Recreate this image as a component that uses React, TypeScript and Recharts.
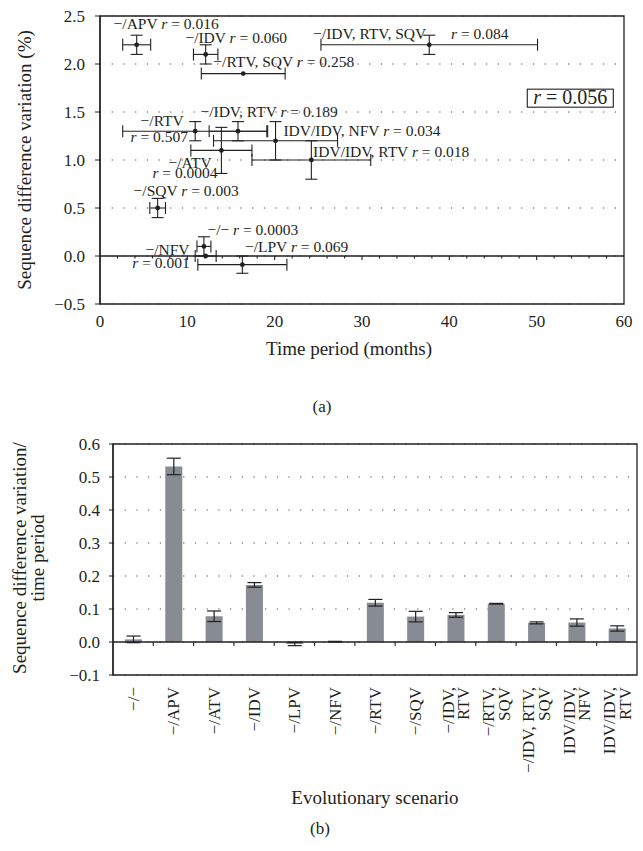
import {
  Bar,
  BarChart,
  CartesianGrid,
  ErrorBar,
  ReferenceArea,
  ReferenceDot,
  ReferenceLine,
  Scatter,
  ScatterChart,
  XAxis,
  YAxis,
} from "recharts";

const FONT = "'Liberation Serif', 'Times New Roman', serif";
const INK = "#231f20";
const BAR = "#878c94";

// evolutionary scenarios, in the order of panel (b)
const scenarios = [
  "−/−",
  "−/APV",
  "−/ATV",
  "−/IDV",
  "−/LPV",
  "−/NFV",
  "−/RTV",
  "−/SQV",
  "−/IDV, RTV",
  "−/RTV, SQV",
  "−/IDV, RTV, SQV",
  "IDV/IDV, NFV",
  "IDV/IDV, RTV",
];

// panel (a): time period (months) vs sequence difference variation (%)
const months = [11.9, 4.2, 13.9, 12.1, 16.3, 12.1, 10.9, 6.6, 15.8, 16.4, 37.7, 20.1, 24.2];
const monthsErr = [0.8, 1.6, 3.5, 1.4, 5.1, 1.2, 8.3, 0.9, 3.3, 4.8, 12.4, 7.1, 6.8];
const seqVar = [0.1, 2.2, 1.1, 2.1, -0.09, 0, 1.3, 0.5, 1.3, 1.9, 2.2, 1.2, 1.0];
const seqVarErr = [0.1, 0.1, 0.24, 0.1, 0.09, 0, 0.1, 0.1, 0.1, 0, 0.1, 0.2, 0.2];
const rValues = ["0.0003", "0.016", "0.0004", "0.060", "0.069", "0.001", "0.507", "0.003", "0.189", "0.258", "0.084", "0.034", "0.018"];
const overallR = "0.056";

// panel (b): sequence difference variation / time period
const rates = [0.008, 0.532, 0.078, 0.173, -0.006, 0.001, 0.119, 0.077, 0.082, 0.116, 0.058, 0.059, 0.041];
const rateErr = [0.01, 0.025, 0.016, 0.007, 0.005, 0.001, 0.01, 0.016, 0.007, 0.001, 0.003, 0.011, 0.008];

const xTicksA = [0, 10, 20, 30, 40, 50, 60];
const yTicksA = [-0.5, 0, 0.5, 1, 1.5, 2, 2.5];
const yTicksB = [-0.1, 0, 0.1, 0.2, 0.3, 0.4, 0.5, 0.6];

// where each scenario label sits in panel (a): left end + baseline, in data units
const notes = [
  { i: 1, x: 1.56, y: 2.36, part: "all" },
  { i: 3, x: 9.78, y: 2.22, part: "all" },
  { i: 9, x: 12.98, y: 1.97, part: "all" },
  { i: 10, x: 24.4, y: 2.265, part: "name" },
  { i: 10, x: 40.2, y: 2.265, part: "r" },
  { i: 8, x: 11.5, y: 1.45, part: "all" },
  { i: 6, x: 4.65, y: 1.35, part: "name" },
  { i: 6, x: 3.5, y: 1.19, part: "r" },
  { i: 11, x: 21.0, y: 1.25, part: "all" },
  { i: 12, x: 24.4, y: 1.03, part: "all" },
  { i: 2, x: 7.84, y: 0.92, part: "name" },
  { i: 2, x: 6.0, y: 0.81, part: "r" },
  { i: 7, x: 3.85, y: 0.62, part: "all" },
  { i: 0, x: 12.3, y: 0.22, part: "all" },
  { i: 5, x: 5.2, y: 0.01, part: "name" },
  { i: 5, x: 3.7, y: -0.125, part: "r" },
  { i: 4, x: 16.6, y: 0.04, part: "all" },
];

const fmt = (v: number) => (v < 0 ? "−" : "") + Math.abs(v).toFixed(1);

function NoteText({ cx, cy, name, r }: { cx: number; cy: number; name?: string; r?: string }) {
  return (
    <text x={cx} y={cy} fontFamily={FONT} fontSize={15.5} fill={INK} style={{ whiteSpace: "pre" }}>
      {name ? <tspan>{name + (r ? " " : "")}</tspan> : null}
      {r ? <tspan fontStyle="italic">r</tspan> : null}
      {r ? <tspan>{" = " + r}</tspan> : null}
    </text>
  );
}

function BoxedR({ cx, cy }: { cx: number; cy: number }) {
  return (
    <g>
      <rect x={cx - 43} y={cy - 9} width={86} height={18} fill="#fff" stroke={INK} strokeWidth={1.1} />
      <text x={cx} y={cy + 6} textAnchor="middle" fontFamily={FONT} fontSize={20} fill={INK} style={{ whiteSpace: "pre" }}>
        <tspan fontStyle="italic">r</tspan>
        <tspan>{" = " + overallR}</tspan>
      </text>
    </g>
  );
}

// solid line at y = 0 with small downward ticks
function ZeroAxis(props: any) {
  const { x1, x2, y1, steps, major, len } = props;
  const step = (x2 - x1) / steps;
  const ticks = [];
  for (let k = 1; k < steps; k++) {
    const l = major && k % major === 0 ? len + 1.5 : len;
    const x = x1 + k * step;
    ticks.push(<line key={k} x1={x} x2={x} y1={y1} y2={y1 + l} stroke={INK} strokeWidth={1.1} />);
  }
  return (
    <g>
      <line x1={x1} x2={x2} y1={y1} y2={y1} stroke={INK} strokeWidth={1.3} />
      {ticks}
    </g>
  );
}

function splitLabel(s: string) {
  const k = s.lastIndexOf(", ");
  return k < 0 ? [s] : [s.slice(0, k + 1), s.slice(k + 2)];
}

function ScenarioTick(props: any) {
  const { x, y, payload } = props;
  const lines = splitLabel(payload.value);
  const lh = 15.5;
  const first = 6 - ((lines.length - 1) * lh) / 2;
  return (
    <g transform={`translate(${x},${y + 4})`}>
      <text transform="rotate(-90)" textAnchor="end" fontFamily={FONT} fontSize={17} fill={INK}>
        {lines.map((l, k) => (
          <tspan key={k} x={0} y={first + k * lh}>
            {l}
          </tspan>
        ))}
      </text>
    </g>
  );
}

function Caption({ cx, top, size, children }: { cx: number; top: number; size: number; children: any }) {
  return (
    <div
      style={{
        position: "absolute",
        left: cx,
        top,
        transform: "translateX(-50%)",
        fontSize: size,
        lineHeight: 1,
        whiteSpace: "nowrap",
      }}
    >
      {children}
    </div>
  );
}

function SideTitle({ cx, cy, size, children }: { cx: number; cy: number; size: number; children: any }) {
  return (
    <div
      style={{
        position: "absolute",
        left: cx,
        top: cy,
        transform: "translate(-50%, -50%) rotate(-90deg)",
        fontSize: size,
        lineHeight: "18px",
        whiteSpace: "nowrap",
        textAlign: "center",
      }}
    >
      {children}
    </div>
  );
}

export default function App() {
  const points = scenarios.map((s, i) => ({
    name: s,
    x: months[i],
    y: seqVar[i],
    ex: monthsErr[i],
    ey: seqVarErr[i],
  }));
  const rows = scenarios.map((s, i) => ({ name: s, rate: rates[i], err: rateErr[i] }));
  const tickStyle = { fontFamily: FONT, fontSize: 17, fill: INK };

  return (
    <div
      style={{
        position: "absolute",
        left: 0,
        top: 0,
        width: 643,
        height: 851,
        background: "#fff",
        fontFamily: FONT,
        color: INK,
      }}
    >
      <div style={{ position: "absolute", left: 0, top: 0 }}>
        <ScatterChart width={643} height={420} margin={{ top: 16, right: 19, left: 40, bottom: 86 }}>
          <CartesianGrid vertical={false} stroke="#444" strokeDasharray="1.2 10.5" />
          <XAxis
            type="number"
            dataKey="x"
            domain={[0, 60]}
            ticks={xTicksA}
            axisLine={false}
            tickLine={false}
            tickMargin={5}
            height={30}
            tick={tickStyle}
          />
          <YAxis
            type="number"
            dataKey="y"
            domain={[-0.5, 2.5]}
            ticks={yTicksA}
            tickFormatter={fmt}
            width={60}
            tickSize={5}
            tickMargin={10}
            axisLine={{ stroke: INK, strokeWidth: 1.3 }}
            tickLine={{ stroke: INK }}
            tick={tickStyle}
          />
          <ReferenceArea y1={-0.5} y2={2.5} fill="none" stroke={INK} strokeWidth={1.3} ifOverflow="visible" />
          <ReferenceLine y={0} shape={(p: any) => <ZeroAxis {...p} steps={30} major={5} len={2.5} />} />
          <Scatter
            data={points}
            isAnimationActive={false}
            shape={(p: any) => <circle cx={p.cx} cy={p.cy} r={2.4} fill={INK} />}
          >
            <ErrorBar dataKey="ex" direction="x" width={6} stroke={INK} strokeWidth={1.1} />
            <ErrorBar dataKey="ey" direction="y" width={6} stroke={INK} strokeWidth={1.1} />
          </Scatter>
          {notes.map((n, k) => (
            <ReferenceDot
              key={k}
              x={n.x}
              y={n.y}
              r={0}
              ifOverflow="visible"
              shape={(p: any) => (
                <NoteText
                  cx={p.cx}
                  cy={p.cy}
                  name={n.part === "r" ? undefined : scenarios[n.i]}
                  r={n.part === "name" ? undefined : rValues[n.i]}
                />
              )}
            />
          ))}
          <ReferenceDot x={53.85} y={1.644} r={0} ifOverflow="visible" shape={(p: any) => <BoxedR cx={p.cx} cy={p.cy} />} />
        </ScatterChart>
      </div>

      <SideTitle cx={24.5} cy={160} size={19}>
        Sequence difference variation (%)
      </SideTitle>
      <Caption cx={349} top={339} size={19}>
        Time period (months)
      </Caption>
      <Caption cx={322} top={398} size={17}>
        (a)
      </Caption>

      <div style={{ position: "absolute", left: 0, top: 420 }}>
        <BarChart width={643} height={431} data={rows} margin={{ top: 24, right: 6, left: 53, bottom: 56 }} barSize={17}>
          <CartesianGrid vertical={false} stroke="#444" strokeDasharray="1.2 10.5" />
          <XAxis dataKey="name" interval={0} axisLine={false} tickLine={false} height={120} tick={<ScenarioTick />} />
          <YAxis
            type="number"
            domain={[-0.1, 0.6]}
            ticks={yTicksB}
            tickFormatter={fmt}
            width={60}
            tickSize={4}
            tickMargin={9}
            axisLine={{ stroke: INK, strokeWidth: 1.3 }}
            tickLine={{ stroke: INK }}
            tick={tickStyle}
          />
          <ReferenceArea y1={-0.1} y2={0.6} fill="none" stroke={INK} strokeWidth={1.3} ifOverflow="visible" />
          <Bar dataKey="rate" fill={BAR} isAnimationActive={false}>
            <ErrorBar dataKey="err" width={7} stroke={INK} strokeWidth={1.2} />
          </Bar>
          <ReferenceLine y={0} shape={(p: any) => <ZeroAxis {...p} steps={13} len={4} />} />
        </BarChart>
      </div>

      <SideTitle cx={28.5} cy={558} size={19}>
        Sequence difference variation/
        <br />
        time period
      </SideTitle>
      <Caption cx={375} top={788} size={19}>
        Evolutionary scenario
      </Caption>
      <Caption cx={320} top={820} size={17}>
        (b)
      </Caption>
    </div>
  );
}
